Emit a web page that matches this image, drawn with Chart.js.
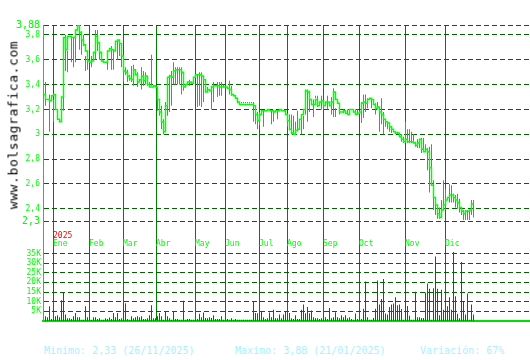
<!DOCTYPE html>
<html>
<head>
<meta charset="utf-8">
<script src="https://cdn.jsdelivr.net/npm/chart.js@4.4.1/dist/chart.umd.min.js"></script>
<style>
  html, body { margin: 0; padding: 0; background: #fff; }
  #wrap { position: relative; width: 530px; height: 360px; overflow: hidden; }
  #chart { position: absolute; left: 0; top: 0; }
  #brand {
    position: absolute; left: 12.5px; top: 125px;
    transform: translate(-50%, -50%) rotate(-90deg);
    font: 13px "DejaVu Sans Mono", monospace; line-height: 15px;
    letter-spacing: 0.6px; color: #000; white-space: nowrap;
  }
  .stat {
    position: absolute; top: 345px;
    font: 10px "DejaVu Sans Mono", monospace; line-height: 12px;
    color: #aaf0ff; white-space: pre;
  }
</style>
</head>
<body>
<div id="wrap">
  <canvas id="chart" width="530" height="330"></canvas>
  <div id="brand">www.bolsagrafica.com</div>
  <div class="stat" style="left:44px">Minimo: 2,33 (26/11/2025)</div>
  <div class="stat" style="left:235px">Maximo: 3,88 (21/01/2025)</div>
  <div class="stat" style="left:420px">Variación: 67%</div>
</div>
<script>
// Cotizaciones por sesión (índice = sesión con negociación)
const closes = [
  3.32, 3.28, 3.28, 3.27, 3.31, 3.32, 3.20, 3.12, 3.10, 3.30,
  3.78, 3.68, 3.79, 3.79, 3.78, 3.78, 3.84, 3.88, 3.82, 3.76,
  3.72, 3.67, 3.59, 3.58, 3.59, 3.66, 3.79, 3.74, 3.66, 3.59,
  3.58, 3.58, 3.67, 3.69, 3.68, 3.67, 3.75, 3.76, 3.73, 3.63,
  3.51, 3.50, 3.47, 3.45, 3.44, 3.52, 3.48, 3.42, 3.44, 3.47,
  3.43, 3.47, 3.40, 3.38, 3.38, 3.39, 3.38, 3.28, 3.18, 3.10,
  3.02, 3.23, 3.46, 3.47, 3.46, 3.51, 3.52, 3.52, 3.52, 3.50,
  3.38, 3.40, 3.42, 3.42, 3.41, 3.46, 3.48, 3.48, 3.48, 3.47,
  3.44, 3.34, 3.36, 3.35, 3.38, 3.39, 3.39, 3.39, 3.38, 3.38,
  3.38, 3.38, 3.37, 3.36, 3.32, 3.31, 3.29, 3.26, 3.24, 3.24,
  3.24, 3.24, 3.24, 3.24, 3.24, 3.23, 3.16, 3.11, 3.16, 3.19,
  3.19, 3.19, 3.20, 3.19, 3.19, 3.18, 3.19, 3.19, 3.20, 3.19,
  3.19, 3.16, 3.11, 3.04, 3.01, 3.00, 3.03, 3.04, 3.12, 3.16,
  3.20, 3.35, 3.34, 3.28, 3.24, 3.24, 3.28, 3.23, 3.26, 3.27,
  3.23, 3.26, 3.26, 3.23, 3.26, 3.34, 3.28, 3.25, 3.18, 3.18,
  3.19, 3.17, 3.16, 3.20, 3.20, 3.18, 3.16, 3.17, 3.18, 3.25,
  3.26, 3.25, 3.28, 3.29, 3.28, 3.24, 3.21, 3.22, 3.18, 3.16,
  3.12, 3.10, 3.09, 3.06, 3.04, 3.02, 3.01, 3.01, 2.98, 2.96,
  2.94, 2.96, 2.94, 2.94, 2.94, 2.93, 2.91, 2.93, 2.96, 2.88,
  2.86, 2.88, 2.86, 2.73, 2.59, 2.49, 2.43, 2.36, 2.33, 2.39,
  2.43, 2.47, 2.49, 2.51, 2.51, 2.49, 2.47, 2.45, 2.41, 2.38,
  2.36, 2.38, 2.38, 2.39, 2.44, 2.44
];

const highs = [
  null, 3.42, null, 3.32, null, 3.28, null, null, null, 3.28,
  3.72, 3.80, 3.67, null, 3.79, 3.78, 3.84, null, 3.88, 3.83,
  3.80, 3.63, 3.63, null, 3.63, null, 3.84, 3.84, 3.74, null,
  null, null, 3.67, null, 3.71, 3.68, null, 3.75, 3.75, 3.70,
  3.52, 3.54, 3.52, 3.48, 3.55, 3.56, null, 3.50, null, 3.54,
  3.51, 3.50, 3.44, 3.42, 3.64, null, null, 3.38, 3.23, 3.23,
  3.12, 3.26, 3.46, 3.48, 3.51, 3.58, 3.54, 3.54, 3.54, 3.54,
  3.40, null, null, 3.44, null, null, null, 3.48, 3.50, 3.50,
  3.46, null, 3.38, null, 3.39, 3.42, null, 3.42, 3.42, 3.42,
  3.40, null, null, 3.43, 3.39, null, null, 3.26, 3.26, 3.26,
  3.26, 3.26, 3.26, 3.26, 3.26, 3.26, 3.19, 3.18, 3.18, null,
  3.19, null, null, null, 3.19, 3.19, null, 3.19, null, null,
  null, null, 3.16, 3.16, 3.16, 3.15, 3.10, 3.19, null, 3.16,
  3.15, 3.36, 3.36, 3.35, null, 3.28, 3.31, 3.31, null, 3.31,
  3.27, null, 3.31, null, 3.30, 3.37, 3.21, null, 3.21, null,
  3.20, null, 3.20, null, null, null, 3.20, 3.20, null, 3.26,
  3.32, 3.32, 3.29, null, 3.29, null, 3.25, 3.26, 3.20, 3.29,
  3.18, 3.12, 3.10, 3.08, 3.06, null, 3.01, 3.02, null, 3.00,
  2.98, 3.10, 3.04, 3.04, 3.02, 3.00, 2.94, 2.96, 2.96, 2.97,
  2.97, 2.92, 2.89, 2.90, 2.92, 2.63, 2.47, 2.43, 2.41, 2.47,
  2.63, 2.56, 2.49, 2.60, 2.59, 2.52, 2.51, 2.52, 2.48, 2.40,
  2.39, 2.39, 2.39, 2.39, 2.47, 2.47
];

const lows = [
  null, 3.23, null, 3.02, null, 3.10, null, null, null, 3.12,
  3.19, 3.51, 3.50, null, 3.58, 3.54, 3.58, null, 3.68, 3.64,
  3.71, 3.51, 3.52, null, 3.54, null, 3.60, 3.67, 3.60, null,
  null, null, 3.52, null, 3.52, 3.52, null, 3.60, 3.63, 3.54,
  3.42, 3.48, 3.42, 3.43, 3.42, 3.39, null, 3.38, null, 3.36,
  3.39, 3.40, 3.39, 3.38, 3.39, null, null, 3.19, 3.15, 3.04,
  3.00, 3.12, 3.15, 3.18, 3.23, 3.40, 3.40, 3.40, 3.40, 3.32,
  3.35, null, null, 3.39, null, null, null, 3.22, 3.23, 3.22,
  3.26, null, 3.34, null, 3.20, 3.26, null, 3.30, 3.31, 3.31,
  3.38, null, null, 3.32, 3.31, null, null, 3.25, 3.25, 3.25,
  3.25, 3.25, 3.25, 3.25, 3.25, 3.10, 3.08, 3.04, 3.07, null,
  3.06, null, null, null, 3.08, 3.10, null, 3.12, null, null,
  null, null, 3.06, 3.03, 3.00, 3.00, 3.03, 3.04, null, 3.00,
  3.04, 3.16, 3.10, 3.18, null, 3.14, 3.29, 3.22, null, 3.20,
  3.20, null, 3.20, null, 3.16, 3.14, 3.14, null, 3.16, null,
  3.17, null, 3.16, null, null, null, 3.16, 3.16, null, 3.09,
  3.13, 3.18, 3.21, null, 3.21, null, 3.16, 3.20, 3.02, 3.08,
  3.00, 3.06, 3.04, 3.02, 3.01, null, 3.00, 3.00, null, 2.94,
  2.93, 2.93, 2.93, 2.93, 2.93, 2.94, 2.90, 2.89, 2.89, 2.85,
  2.86, 2.86, 2.71, 2.53, 2.60, 2.39, 2.35, 2.32, 2.32, 2.35,
  2.41, 2.39, 2.47, 2.45, 2.45, 2.45, 2.41, 2.40, 2.37, 2.35,
  2.31, 2.31, 2.31, 2.31, 2.35, 2.33
];

// Volumen en miles de títulos
const volumes = [
  0, 2.5, 2.0, 7.7, 1.0, 0.5, 2.5, 3.0, 2.0, 10.8,
  14.5, 3.4, 1.4, 1.4, 1.0, 2.5, 4.2, 2.0, 2.0, 0.6,
  0.6, 7.7, 2.0, 2.0, 0.6, 2.0, 2.0, 1.0, 1.4, 0.6,
  0.6, 1.4, 1.0, 1.8, 1.0, 4.2, 2.0, 4.2, 1.0, 1.4,
  8.8, 9.2, 1.0, 0.6, 2.5, 1.4, 2.0, 2.5, 2.0, 2.5,
  1.0, 1.0, 1.4, 3.0, 8.1, 1.4, 1.4, 2.5, 4.2, 2.5,
  0.6, 5.2, 2.5, 1.4, 0.6, 5.0, 1.0, 1.0, 0.6, 0.6,
  10.5, 0.6, 1.0, 1.0, 0.6, 0.6, 0.6, 1.0, 3.8, 2.0,
  4.4, 1.6, 1.4, 2.0, 1.6, 3.0, 1.0, 1.0, 1.0, 2.5,
  0.6, 0.6, 1.0, 0.6, 1.4, 0.6, 1.0, 0.6, 0.6, 0.6,
  0.6, 0.6, 0.6, 0.6, 0.6, 9.8, 4.2, 4.0, 4.2, 4.8,
  2.0, 1.0, 1.4, 4.4, 2.0, 5.8, 1.4, 1.4, 3.4, 1.4,
  3.4, 5.2, 1.4, 4.2, 1.4, 1.0, 3.0, 1.0, 1.0, 5.8,
  8.6, 4.0, 7.2, 4.0, 5.5, 2.0, 1.4, 1.4, 1.0, 1.4,
  0.6, 2.0, 1.0, 6.7, 1.4, 2.0, 4.5, 2.0, 1.4, 3.0,
  2.0, 3.0, 1.4, 2.0, 1.0, 0.6, 3.9, 1.0, 0.6, 1.0,
  6.4, 20.5, 2.0, 0.6, 0.6, 1.6, 6.4, 21.0, 8.6, 11.4,
  21.7, 3.9, 3.4, 7.2, 8.6, 9.0, 12.3, 8.1, 8.6, 6.2,
  0.6, 12.3, 7.8, 2.7, 0.6, 0.6, 15.2, 2.0, 2.0, 1.6,
  1.6, 14.7, 19.4, 16.7, 0.6, 17.0, 33.4, 16.7, 3.0, 16.2,
  5.8, 3.0, 7.7, 12.3, 5.8, 35.8, 12.8, 3.8, 1.4, 30.5,
  9.8, 3.4, 14.2, 0.6, 8.6, 3.4
];

// Comienzo de cada mes sobre el eje de sesiones
const monthStarts = [4.9, 22.9, 39.9, 56.3, 75.9, 90.9, 107.9, 121.9, 139.9, 157.9, 180.9, 200.9];
const monthLabels = ['Ene', 'Feb', 'Mar', 'Abr', 'May', 'Jun', 'Jul', 'Ago', 'Sep', 'Oct', 'Nov', 'Dic'];
const yearLabel = '2025';

const priceTicks = [2.3, 2.4, 2.6, 2.8, 3, 3.2, 3.4, 3.6, 3.8, 3.88];
const volumeTicks = [5, 10, 15, 20, 25, 30, 35];

const MONO = '"DejaVu Sans Mono", monospace';
const LIME = '#00ff00';
const AXIS = '#00e000';
const MONTH_LINE = '#008000';
const DASH_LINE = '#006400';
const TEAL = '#10a5b5';
const RED = '#e00000';

Chart.defaults.font.family = MONO;

const idx = closes.map((_, i) => i);
const closeData = idx.map(i => ({ x: i, y: closes[i] }));
const rangeData = idx.filter(i => highs[i] !== null).map(i => ({ x: i, y: [lows[i], highs[i]] }));
const volData = idx.map(i => ({ x: i, y: volumes[i] }));

// Etiquetas de meses entre el gráfico de precio y el de volumen
const monthLabelsPlugin = {
    id: 'monthLabels',
    afterDraw(chart) {
        const { ctx } = chart;
        const x = chart.scales.x;
        ctx.save();
        ctx.font = '8px ' + MONO;
        ctx.textBaseline = 'middle';
        ctx.textAlign = 'left';
        ctx.fillStyle = LIME;
        monthStarts.forEach((m, i) => {
            ctx.fillText(monthLabels[i], Math.floor(x.getPixelForValue(m)), 244);
        });
        ctx.fillStyle = '#ff0000';
        ctx.fillText(yearLabel, Math.floor(x.getPixelForValue(monthStarts[0])), 236);
        ctx.restore();
    }
};

const bigTick = (c) => c.tick && (c.tick.value === 3.88 || c.tick.value === 2.3);

new Chart(document.getElementById('chart'), {
    type: 'bar',
    data: {
        datasets: [
            {
                type: 'line',
                data: closeData,
                yAxisID: 'y',
                borderColor: LIME,
                backgroundColor: LIME,
                borderWidth: 1.5,
                pointRadius: 0,
                stepped: true,
                order: 0,
            },
            {
                type: 'bar',
                data: rangeData,
                yAxisID: 'y',
                backgroundColor: TEAL,
                borderColor: TEAL,
                borderWidth: 0,
                barThickness: 1,
                grouped: false,
                inflateAmount: 0,
                order: 1,
            },
            {
                type: 'bar',
                data: volData,
                yAxisID: 'yVol',
                backgroundColor: RED,
                borderColor: RED,
                borderWidth: 0,
                barThickness: 1,
                grouped: false,
                inflateAmount: 0,
                order: 1,
            },
        ],
    },
    options: {
        responsive: false,
        animation: false,
        devicePixelRatio: 1,
        layout: { padding: { top: 25, bottom: 4, left: 0, right: 0 } },
        plugins: {
            legend: { display: false },
            tooltip: { enabled: false },
        },
        scales: {
            x: {
                type: 'linear',
                position: 'bottom',
                min: -0.25,
                max: 243.25,
                offset: false,
                afterBuildTicks: (s) => { s.ticks = monthStarts.map(v => ({ value: v })); },
                afterFit: (s) => { s.height = 0; },
                ticks: { display: false },
                grid: { color: MONTH_LINE, lineWidth: 1, drawTicks: false, offset: false },
                border: { color: AXIS, width: 2 },
            },
            y: {
                type: 'linear',
                position: 'left',
                stack: 'left',
                stackWeight: 205,
                weight: 2,
                min: 2.2563,
                max: 3.88,
                afterBuildTicks: (s) => { s.ticks = priceTicks.map(v => ({ value: v })); },
                afterFit: (s) => { s.width = 43; },
                ticks: {
                    color: LIME,
                    padding: 3,
                    autoSkip: false,
                    font: (c) => ({ size: bigTick(c) ? 10 : 8 }),
                    callback: (v) => String(v).replace('.', ','),
                },
                grid: { color: DASH_LINE, lineWidth: 1, drawTicks: false },
                border: { color: AXIS, width: 1, dash: [5, 3] },
            },
            yVol: {
                type: 'linear',
                position: 'left',
                stack: 'left',
                stackWeight: 96,
                weight: 1,
                min: 0,
                max: 48.9,
                afterBuildTicks: (s) => { s.ticks = volumeTicks.map(v => ({ value: v })); },
                afterFit: (s) => { s.width = 43; },
                ticks: {
                    color: LIME,
                    padding: 2,
                    autoSkip: false,
                    font: { size: 8 },
                    callback: (v) => v + 'K',
                },
                grid: { color: DASH_LINE, lineWidth: 1, drawTicks: false },
                border: { color: AXIS, width: 1, dash: [5, 3] },
            },
        },
    },
    plugins: [monthLabelsPlugin],
});
</script>
</body>
</html>
